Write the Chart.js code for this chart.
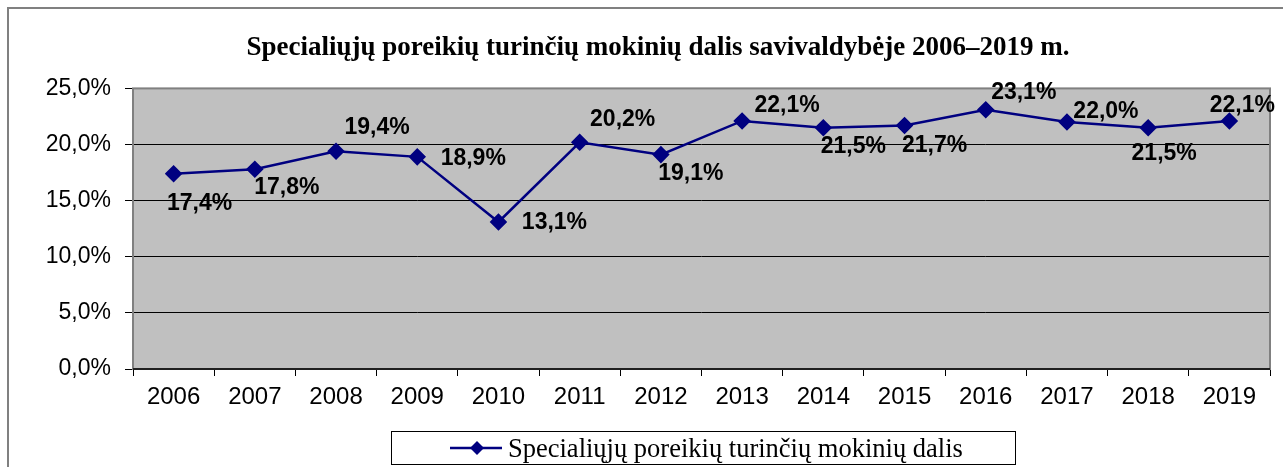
<!DOCTYPE html>
<html><head><meta charset="utf-8">
<script src="https://cdn.jsdelivr.net/npm/chart.js@4"></script>
<style>html,body{margin:0;padding:0;background:#fff;overflow:hidden}#wrap{width:1283px;height:467px;position:relative}</style>
</head><body><div id="wrap"><canvas id="c" width="1283" height="467"></canvas></div>
<script>
const TITLE = 'Specialiųjų poreikių turinčių mokinių dalis savivaldybėje 2006–2019 m.';
const SERIES_NAME = 'Specialiųjų poreikių turinčių mokinių dalis';
const YEARS = ['2006','2007','2008','2009','2010','2011','2012','2013','2014','2015','2016','2017','2018','2019'];
const SHARE = [17.4, 17.8, 19.4, 18.9, 13.1, 20.2, 19.1, 22.1, 21.5, 21.7, 23.1, 22.0, 21.5, 22.1];
const Y_MIN = 0, Y_MAX = 25, Y_STEP = 5;

// label placement (style only): offset of label centre from its point
const LABEL_OFFSETS = [[26,30],[32,18],[41,-24],[56,2],[56,1],[43,-23],[30,19],[45,-15],[30,19],[30,20],[38,-17],[39,-10],[16,26],[13,-15]];

const fmt = v => v.toFixed(1).replace('.', ',') + '%';
const NAVY = '#000080';

const decor = {
  id: 'decor',
  beforeDraw(chart) {
    const ctx = chart.ctx, a = chart.chartArea;
    ctx.save();
    ctx.fillStyle = '#fff';
    ctx.fillRect(0, 0, chart.width, chart.height);
    ctx.strokeStyle = '#808080';
    ctx.lineWidth = 2;
    ctx.strokeRect(8, 8, chart.width + 20, chart.height + 20);
    ctx.fillStyle = '#C0C0C0';
    ctx.fillRect(a.left, a.top, a.right - a.left, a.bottom - a.top);
    ctx.restore();
  },
  beforeDatasetsDraw(chart) {
    const ctx = chart.ctx, a = chart.chartArea;
    ctx.save();
    ctx.strokeStyle = '#808080';
    ctx.lineWidth = 2;
    ctx.strokeRect(a.left, a.top, a.right - a.left, a.bottom - a.top);
    ctx.strokeStyle = '#000';
    ctx.lineWidth = 1.5;
    ctx.beginPath();
    ctx.moveTo(a.left, a.bottom); ctx.lineTo(a.right, a.bottom);
    ctx.stroke();
    ctx.restore();
  },
  afterDatasetsDraw(chart) {
    const ctx = chart.ctx;
    const meta = chart.getDatasetMeta(0);
    ctx.save();
    ctx.font = 'bold 23px "Liberation Sans", Arial, sans-serif';
    ctx.fillStyle = '#000';
    ctx.textAlign = 'center';
    ctx.textBaseline = 'middle';
    meta.data.forEach((pt, i) => {
      const o = LABEL_OFFSETS[i];
      ctx.fillText(fmt(SHARE[i]), pt.x + o[0], pt.y + o[1]);
    });
    ctx.restore();
  },
  afterDraw(chart) {
    const ctx = chart.ctx;
    ctx.save();
    ctx.strokeStyle = '#000';
    ctx.lineWidth = 1;
    ctx.strokeRect(391.5, 431.5, 624, 33);
    const ly = 448;
    ctx.strokeStyle = NAVY;
    ctx.lineWidth = 2.5;
    ctx.beginPath(); ctx.moveTo(450, ly); ctx.lineTo(502, ly); ctx.stroke();
    ctx.fillStyle = NAVY;
    ctx.beginPath();
    ctx.moveTo(477, ly - 7); ctx.lineTo(484, ly); ctx.lineTo(477, ly + 7); ctx.lineTo(470, ly);
    ctx.closePath(); ctx.fill();
    ctx.fillStyle = '#000';
    ctx.font = '26.5px "Liberation Serif", "Times New Roman", serif';
    ctx.textAlign = 'left';
    ctx.textBaseline = 'alphabetic';
    ctx.fillText(SERIES_NAME, 508, 457);
    ctx.restore();
  }
};

new Chart(document.getElementById('c'), {
  type: 'line',
  data: {
    labels: YEARS,
    datasets: [{
      label: SERIES_NAME,
      data: SHARE,
      borderColor: NAVY,
      backgroundColor: NAVY,
      borderWidth: 2.5,
      pointStyle: 'rectRot',
      pointRadius: 7,
      pointBackgroundColor: NAVY,
      pointBorderColor: NAVY,
      tension: 0,
      fill: false
    }]
  },
  options: {
    responsive: false,
    devicePixelRatio: 1,
    animation: false,
    layout: { padding: { left: 46, right: 13, top: 0, bottom: 0 } },
    plugins: {
      legend: { display: false },
      tooltip: { enabled: false },
      title: {
        display: true,
        text: TITLE,
        color: '#000',
        font: { family: '"Liberation Serif", "Times New Roman", serif', size: 27, weight: 'bold' },
        padding: { top: 32, bottom: 24 }
      }
    },
    scales: {
      x: {
        type: 'category',
        offset: true,
        grid: { offset: true, drawOnChartArea: false, drawTicks: true, tickLength: 7, color: '#000', lineWidth: 1 },
        border: { display: false },
        ticks: { color: '#000', font: { family: '"Liberation Sans", Arial, sans-serif', size: 24 }, padding: 7, maxRotation: 0, autoSkip: false },
        afterFit: s => { s.height = 98; }
      },
      y: {
        min: Y_MIN, max: Y_MAX,
        grid: { color: '#000', lineWidth: 1, tickLength: 8, drawTicks: true },
        border: { display: false },
        ticks: { stepSize: Y_STEP, color: '#000', font: { family: '"Liberation Sans", Arial, sans-serif', size: 23 }, padding: 14, callback: v => fmt(v) },
        afterFit: s => { s.width = 87; }
      }
    }
  },
  plugins: [decor]
});
</script></body></html>
